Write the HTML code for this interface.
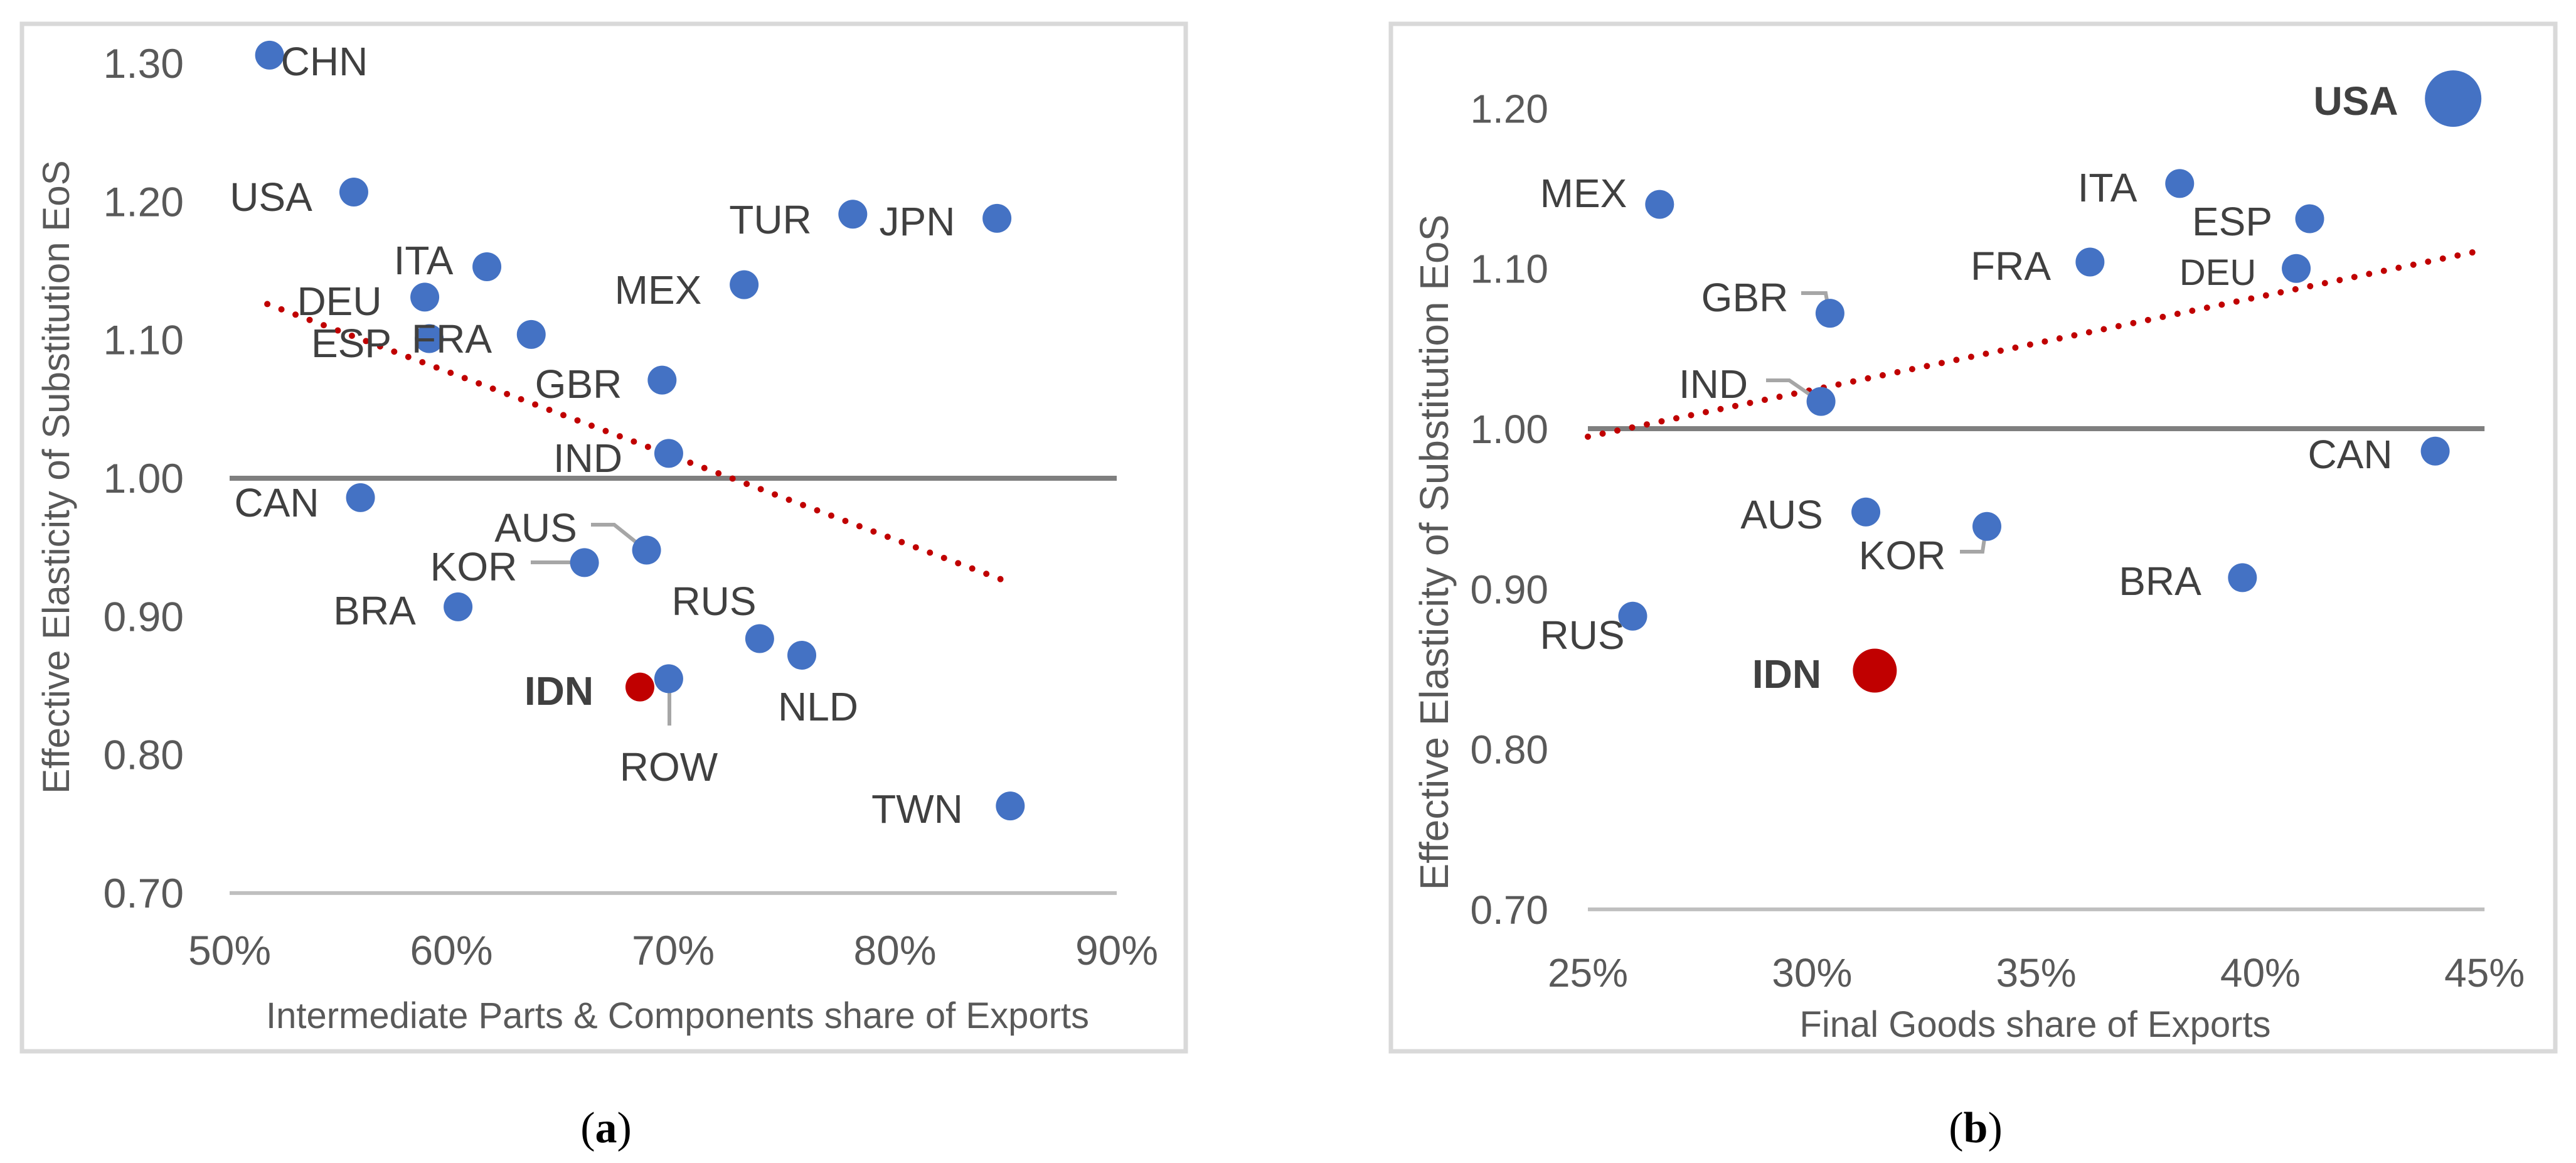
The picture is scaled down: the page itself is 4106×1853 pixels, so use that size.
<!DOCTYPE html>
<html><head><meta charset="utf-8"><style>
html,body{margin:0;padding:0;background:#fff;}
svg{display:block;font-family:"Liberation Sans",sans-serif;}
</style></head><body>
<svg id="fig" width="4106" height="1853" viewBox="0 0 4106 1853" xmlns="http://www.w3.org/2000/svg">
<rect x="35" y="38" width="1855" height="1637" fill="#fff" stroke="#d9d9d9" stroke-width="7"/>
<rect x="2217" y="38" width="1856" height="1637" fill="#fff" stroke="#d9d9d9" stroke-width="7"/>
<g id="ga"></g>
<g id="gb"></g>
<text x="966" y="1820" font-family="Liberation Serif,serif" font-size="70" text-anchor="middle" fill="#000">(<tspan font-weight="bold">a</tspan>)</text>
<text x="3149" y="1820" font-family="Liberation Serif,serif" font-size="70" text-anchor="middle" fill="#000">(<tspan font-weight="bold">b</tspan>)</text>
</svg>
<script>
// Chart A data
const aCountries = ["CHN","USA","TUR","JPN","ITA","MEX","DEU","FRA","ESP","GBR","IND","CAN","AUS","KOR","BRA","RUS","NLD","ROW","IDN","TWN"];
const aX = [51.8,55.6,78.1,84.6,61.6,73.2,58.8,63.6,59.0,69.5,69.8,55.9,68.8,66.0,60.3,73.9,75.8,69.8,68.5,85.2];
const aY = [1.306,1.207,1.191,1.188,1.153,1.140,1.131,1.104,1.101,1.071,1.018,0.986,0.948,0.939,0.907,0.884,0.872,0.855,0.849,0.763];
const aXTicks = [50,60,70,80,90];
const aYTicks = [0.70,0.80,0.90,1.00,1.10,1.20,1.30];
const aTrendX = [51.7,85.1];
const aTrendY = [1.126,0.925];
// Chart B data
const bCountries = ["USA","MEX","ITA","ESP","FRA","DEU","GBR","IND","CAN","AUS","KOR","BRA","RUS","IDN"];
const bX = [44.3,26.6,38.2,41.1,36.2,40.8,30.4,30.2,43.9,31.2,33.9,39.6,26.0,31.4];
const bY = [1.206,1.140,1.153,1.131,1.104,1.100,1.072,1.017,0.986,0.948,0.939,0.907,0.883,0.849];
const bXTicks = [25,30,35,40,45];
const bYTicks = [0.70,0.80,0.90,1.00,1.10,1.20];
const bTrendX = [25,44.9];
const bTrendY = [0.995,1.111];

const NS="http://www.w3.org/2000/svg";
function mk(parent,tag,attrs,text){const e=document.createElementNS(NS,tag);for(const k in attrs)e.setAttribute(k,attrs[k]);if(text!==undefined)e.textContent=text;parent.appendChild(e);return e;}

const axA=v=>366+(v-50)*35.35, ayA=v=>762-(v-1.0)*2203;
const axB=v=>2531+(v-25)*71.46, ayB=v=>683-(v-1.0)*2553;

function drawChart(g,sx,sy,xT,yT,xmin,xmax,ymin,tickRight,xTickY,fs){
  yT.forEach(t=>{const e=mk(g,'text',{x:tickRight,y:sy(t)+23,'text-anchor':'end','font-size':fs,fill:'#595959'},t.toFixed(2));
  
  });
  xT.forEach(t=>{const e=mk(g,'text',{x:sx(t),y:xTickY,'text-anchor':'middle','font-size':fs,fill:'#595959'},t+'%');
  
  });
  const base=mk(g,'line',{x1:sx(xmin),x2:sx(xmax),y1:sy(ymin),y2:sy(ymin),stroke:'#bfbfbf','stroke-width':6});
  
  
  const one=mk(g,'line',{x1:sx(xmin),x2:sx(xmax),y1:sy(1.0),y2:sy(1.0),stroke:'#7f7f7f','stroke-width':8});
  
  
}

const ga=document.getElementById('ga'), gb=document.getElementById('gb');
drawChart(ga,axA,ayA,aXTicks,aYTicks,50,90,0.70,293,1537,66);
drawChart(gb,axB,ayB,bXTicks,bYTicks,25,45,0.70,2468,1572,64);

let t=mk(ga,'text',{x:0,y:0,transform:'translate(110,760) rotate(-90)','text-anchor':'middle','font-size':60,fill:'#595959'},'Effective Elasticity of Substitution EoS');


t=mk(ga,'text',{x:1080,y:1638,'text-anchor':'middle','font-size':58,fill:'#595959'},'Intermediate Parts & Components share of Exports');


t=mk(gb,'text',{x:0,y:0,transform:'translate(2308,880) rotate(-90)','text-anchor':'middle','font-size':64,fill:'#595959'},'Effective Elasticity of Substitution EoS');


t=mk(gb,'text',{x:3244,y:1652,'text-anchor':'middle','font-size':58,fill:'#595959'},'Final Goods share of Exports');



let tr=mk(ga,'line',{x1:axA(aTrendX[0]),y1:ayA(aTrendY[0]),x2:axA(aTrendX[1]),y2:ayA(aTrendY[1]),stroke:'#c00000','stroke-width':10,'stroke-linecap':'round','stroke-dasharray':'0 24'});


tr=mk(gb,'line',{x1:axB(bTrendX[0]),y1:ayB(bTrendY[0]),x2:axB(bTrendX[1]),y2:ayB(bTrendY[1]),stroke:'#c00000','stroke-width':10,'stroke-linecap':'round','stroke-dasharray':'0 24'});



function leader(g,pts){const p=mk(g,'polyline',{points:pts,fill:'none',stroke:'#a6a6a6','stroke-width':6});

}
leader(ga,'942,836 979,836 1029,876');
leader(ga,'846,896 932,896');
leader(ga,'1067,1083 1067,1156');
leader(gb,'2871,467 2910,467 2916,500');
leader(gb,'2815,606 2852,606 2900,639');
leader(gb,'3124,879 3160,879 3166,838');

aCountries.forEach((c,i)=>{const red=c==='IDN';
  const e=mk(ga,'circle',{cx:axA(aX[i]),cy:ayA(aY[i]),r:23,fill:red?'#c00000':'#4472c4'});
  
  });
bCountries.forEach((c,i)=>{const red=c==='IDN';const r=c==='USA'?45:(red?35:23);
  const e=mk(gb,'circle',{cx:axB(bX[i]),cy:ayB(bY[i]),r:r,fill:red?'#c00000':'#4472c4'});
  
  });

const aLab={CHN:[517,97],USA:[432,313],TUR:[1228,349],JPN:[1462,352],ITA:[675,414],MEX:[1049,461],DEU:[541,479],ESP:[560,546],FRA:[720,539],GBR:[922,611],IND:[937,729],CAN:[441,800],AUS:[854,840],KOR:[755,902],BRA:[597,972],RUS:[1138,957],IDN:[891,1100],NLD:[1304,1125],ROW:[1066,1221],TWN:[1462,1288]};
const bLab={USA:[3755,160],MEX:[2524,307],ITA:[3359,298],ESP:[3558,352],FRA:[3205,423],DEU:[3535,431],GBR:[2781,473],IND:[2731,611],CAN:[3746,723],AUS:[2840,819],KOR:[3032,884],BRA:[3443,925],RUS:[2522,1011],IDN:[2848,1073]};
function labels(g,map,pre){for(const c in map){const [x,y]=map[c];const bold=(c==='IDN')||(pre==='b'&&c==='USA');
  const fs=(pre==='b'&&c==='DEU')?58:64;
  const e=mk(g,'text',{x:x,y:y+23,'text-anchor':'middle','font-size':fs,'font-weight':bold?'bold':'normal',fill:'#404040'},c);
  
  }}
labels(ga,aLab,'a');labels(gb,bLab,'b');
</script>
</body></html>
